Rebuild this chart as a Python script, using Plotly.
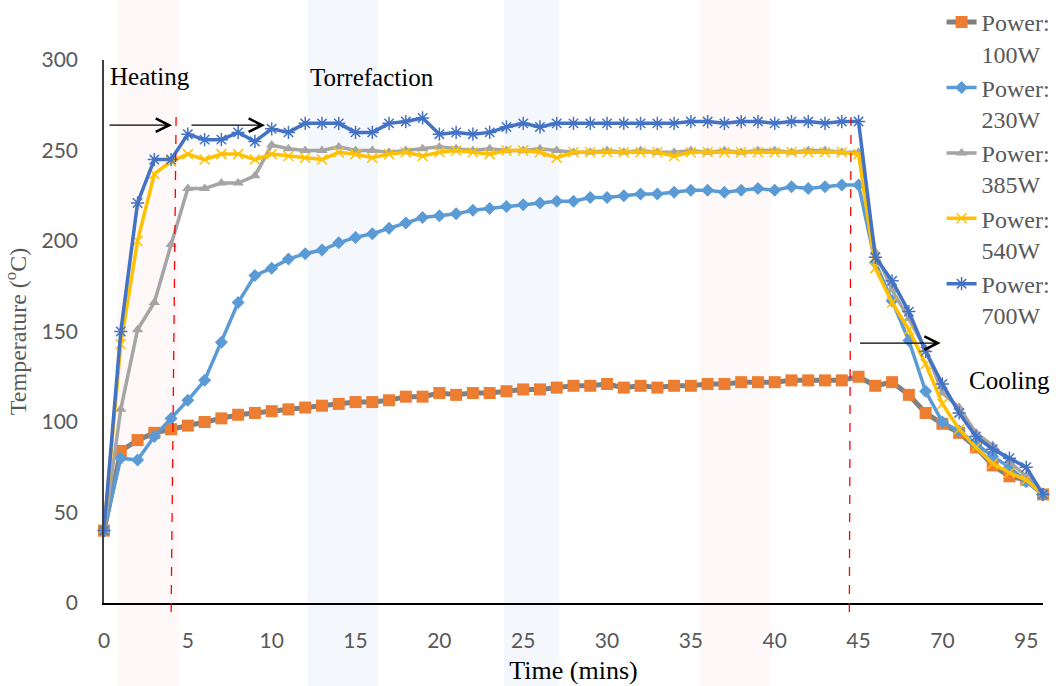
import plotly.graph_objects as go

# Time categories (mins): every minute up to 45, then every 5 minutes
time_mins = list(range(0, 46)) + [50, 55, 60, 65, 70, 75, 80, 85, 90, 95, 100]
time_labels = [str(t) for t in time_mins]
tick_labels = ["0", "5", "10", "15", "20", "25", "30", "35", "40", "45", "70", "95"]

p100 = [40, 84, 90, 94, 96, 98, 100, 102, 104, 105, 106, 107, 108, 109, 110, 111, 111, 112, 114, 114,
        116, 115, 116, 116, 117, 118, 118, 119, 120, 120, 121, 119, 120, 119, 120, 120, 121, 121, 122, 122,
        122, 123, 123, 123, 123, 125,
        120, 122, 115, 105, 99, 94, 86, 76, 70, 68, 60]
p230 = [40, 80, 79, 92, 102, 112, 123, 144, 166, 181, 185, 190, 193, 195, 199, 202, 204, 207, 210, 213,
        214, 215, 217, 218, 219, 220, 221, 222, 222, 224, 224, 225, 226, 226, 227, 228, 228, 227, 228, 229,
        228, 230, 229, 230, 231, 231,
        188, 167, 145, 117, 100, 95, 88, 81, 75, 67, 60]
p385 = [40, 107, 151, 166, 198, 229, 229, 232, 232, 236, 253, 251, 250, 250, 252, 250, 250, 249, 250, 251,
        252, 251, 250, 251, 250, 250, 251, 250, 249, 249, 250, 249, 250, 249, 249, 250, 249, 250, 249, 250,
        250, 249, 250, 250, 249, 249,
        194, 173, 157, 140, 116, 108, 94, 87, 78, 70, 60]
p540 = [40, 143, 200, 237, 244, 248, 245, 248, 248, 245, 248, 247, 246, 245, 249, 248, 246, 248, 249, 247,
        249, 250, 249, 248, 250, 250, 249, 246, 249, 249, 249, 249, 249, 249, 247, 249, 249, 249, 249, 249,
        249, 249, 249, 249, 249, 248,
        185, 166, 151, 132, 110, 96, 86, 77, 72, 68, 60]
p700 = [40, 150, 221, 245, 245, 259, 256, 256, 260, 255, 262, 260, 265, 265, 265, 260, 260, 265, 266, 268,
        259, 260, 259, 260, 263, 265, 263, 265, 265, 265, 265, 265, 265, 265, 265, 266, 266, 265, 266, 266,
        265, 266, 266, 265, 266, 266,
        191, 178, 161, 139, 121, 105, 92, 85, 80, 75, 60]

series = [
    ("Power:<br>100W", p100, "#808080", 5, dict(symbol="square", size=12, color="#ED7D31")),
    ("Power:<br>230W", p230, "#5B9BD5", 3.5, dict(symbol="diamond", size=10, color="#5B9BD5")),
    ("Power:<br>385W", p385, "#A5A5A5", 3.5, dict(symbol="triangle-up", size=10, color="#A5A5A5")),
    ("Power:<br>540W", p540, "#FFC000", 3.5, dict(symbol="x-thin-open", size=10, color="#FFC000",
                                                   line=dict(width=1.5, color="#FFC000"))),
    ("Power:<br>700W", p700, "#4472C4", 3.5, dict(symbol="asterisk-open", size=11, color="#4472C4",
                                                   line=dict(width=1.5, color="#4472C4"))),
]

fig = go.Figure()
for name, vals, lc, lw, mk in series:
    fig.add_trace(go.Scatter(
        x=time_labels, y=vals, name=name, mode="lines+markers",
        line=dict(color=lc, width=lw), marker=mk, cliponaxis=False,
    ))

serif = "Liberation Serif"

# faint watermark bands
for x0, x1, col in [(0.015, 0.080, "rgba(240,150,150,0.07)"), (0.217, 0.292, "rgba(150,180,215,0.10)"),
                    (0.426, 0.485, "rgba(150,180,215,0.10)"), (0.635, 0.710, "rgba(240,150,150,0.07)")]:
    fig.add_shape(type="rect", xref="paper", yref="paper", x0=x0, x1=x1, y0=-0.16, y1=1.12,
                  fillcolor=col, line=dict(width=0), layer="below")

# red dashed phase separators
fig.add_shape(type="line", xref="x", yref="paper", x0=4.3, x1=4.0, y0=0.895, y1=-0.026,
              line=dict(color="#FF0000", width=1.3, dash="dash"))
fig.add_shape(type="line", xref="x", yref="paper", x0=44.55, x1=44.45, y0=0.895, y1=-0.026,
              line=dict(color="#FF0000", width=1.3, dash="dash"))

# arrows
for (x0, x1, yv) in [(0.24, 4.06, 264), (5.13, 9.6, 264), (45.0, 49.9, 143.6)]:
    fig.add_annotation(x=x1, y=yv, ax=x0, ay=yv, xref="x", yref="y", axref="x", ayref="y",
                       text="", showarrow=True, arrowhead=5, arrowsize=2.2, arrowwidth=1.2,
                       arrowcolor="black")

fig.add_annotation(x=0.24, y=291, xref="x", yref="y", text="Heating", showarrow=False,
                   xanchor="left", font=dict(family=serif, size=25, color="black"))
fig.add_annotation(x=15.96, y=290.5, xref="x", yref="y", text="Torrefaction", showarrow=False,
                   xanchor="center", font=dict(family=serif, size=25, color="black"))
fig.add_annotation(x=54.0, y=123, xref="x", yref="y", text="Cooling", showarrow=False,
                   xanchor="center", font=dict(family=serif, size=25, color="black"))

fig.update_layout(
    width=1062, height=686,
    margin=dict(l=104, r=19, t=60, b=83, autoexpand=False),
    paper_bgcolor="white", plot_bgcolor="rgba(0,0,0,0)",
    showlegend=True,
    legend=dict(xref="container", yref="container", x=0.993, xanchor="right", y=1.0, yanchor="top",
                font=dict(family=serif, size=24, color="#595959"), valign="top",
                bgcolor="rgba(255,255,255,0)", tracegroupgap=0),
    xaxis=dict(type="category", range=[0, 56], tickmode="array", tickvals=[
        "0", "5", "10", "15", "20", "25", "30", "35", "40", "45", "70", "95"], ticktext=tick_labels,
        showgrid=False, zeroline=False, showline=True, linecolor="black", linewidth=1.5,
        ticks="", ticklabelstandoff=18, automargin=False,
        tickfont=dict(family="Lato", size=21, color="#595959"),
        title=dict(text="Time (mins)", font=dict(family=serif, size=26, color="black"), standoff=10)),
    yaxis=dict(range=[0, 300], tickvals=[0, 50, 100, 150, 200, 250, 300],
               showgrid=False, zeroline=False, showline=True, linecolor="#404040", linewidth=1.5,
               ticks="", ticklabelstandoff=20, automargin=False,
               tickfont=dict(family="Lato", size=21, color="#595959"),
               title=dict(text="Temperature (<sup>o</sup>C)",
                          font=dict(family=serif, size=24, color="#595959"), standoff=8)),
)

fig.write_html("out.html")
